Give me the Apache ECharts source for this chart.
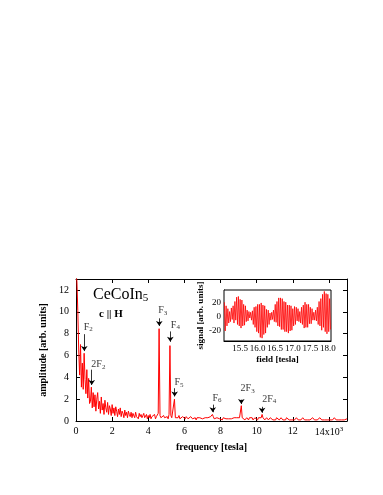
<!DOCTYPE html>
<html>
<head>
<meta charset="utf-8">
<script src="https://cdn.jsdelivr.net/npm/echarts@6/dist/echarts.min.js"></script>
<style>
  html, body { margin: 0; padding: 0; background: #fff; }
  #chart { width: 383px; height: 495px; }
</style>
</head>
<body>
<div id="chart"></div>
<script>
// FFT amplitude, sampled every 0.05 (x10^3 tesla) from 0 to 15
const freqStep = 0.05
const amplitude = [
  13.5, 12.8, 10.1, 6.5, 4.2, 7.0, 3.1, 5.3, 2.9, 6.2, 3.8, 2.5, 4.7, 2.1, 3.9, 1.6, 1.8, 3.1, 1.2, 2.6,
  1.3, 2.4, 0.9, 2.0, 2.6, 1.1, 1.8, 0.7, 2.2, 1.0, 1.6, 0.6, 1.9, 1.2, 0.8, 1.7, 0.6, 1.4, 1.1, 0.5,
  1.5, 0.7, 1.2, 0.5, 1.3, 0.9, 0.4, 1.1, 0.6, 1.2, 0.4, 0.9, 0.7, 0.3, 1.0, 0.5, 0.8, 0.3, 0.9, 0.6,
  0.4, 0.8, 0.3, 0.7, 0.6, 0.3, 0.8, 0.4, 0.5, 0.2, 0.7, 0.4, 0.6, 0.3, 0.5, 0.7, 0.3, 0.4, 0.6, 0.2,
  0.5, 0.3, 0.6, 0.2, 0.4, 0.5, 0.3, 0.6, 0.2, 0.4, 0.3, 0.7, 8.45, 0.5, 0.3, 0.4, 0.2, 0.5, 0.3, 0.4,
  0.3, 0.4, 0.2, 0.6, 6.9, 0.5, 0.3, 0.4, 0.3, 2.0, 0.3, 0.4, 0.2, 0.3, 0.5, 0.2, 0.3, 0.2, 0.4, 0.3,
  0.3, 0.2, 0.4, 0.3, 0.2, 0.3, 0.1, 0.4, 0.3, 0.2, 0.3, 0.2, 0.3, 0.1, 0.3, 0.4, 0.2, 0.3, 0.2, 0.3,
  0.2, 0.3, 0.1, 0.3, 0.2, 0.2, 0.3, 0.2, 0.3, 0.4, 0.3, 0.6, 0.4, 0.2, 0.3, 0.1, 0.3, 0.2, 0.3, 0.2,
  0.3, 0.2, 0.1, 0.3, 0.2, 0.3, 0.2, 0.1, 0.3, 0.2, 0.3, 0.2, 0.2, 0.3, 0.1, 0.3, 0.2, 0.2, 0.3, 0.2,
  0.2, 0.3, 0.3, 1.4, 0.3, 0.2, 0.3, 0.1, 0.2, 0.3, 0.2, 0.1, 0.3, 0.2, 0.2, 0.3, 0.1, 0.2, 0.3, 0.2,
  0.2, 0.1, 0.3, 0.2, 0.2, 0.3, 0.6, 0.3, 0.2, 0.1, 0.2, 0.3, 0.2, 0.1, 0.2, 0.3, 0.2, 0.2, 0.1, 0.2,
  0.2, 0.1, 0.3, 0.2, 0.2, 0.1, 0.2, 0.3, 0.2, 0.1, 0.2, 0.2, 0.1, 0.3, 0.2, 0.2, 0.1, 0.2, 0.2, 0.1,
  0.2, 0.2, 0.1, 0.2, 0.3, 0.2, 0.1, 0.2, 0.2, 0.1, 0.2, 0.3, 0.2, 0.1, 0.2, 0.2, 0.1, 0.2, 0.2, 0.1,
  0.2, 0.1, 0.3, 0.2, 0.1, 0.2, 0.2, 0.1, 0.2, 0.2, 0.3, 0.2, 0.1, 0.2, 0.2, 0.1, 0.2, 0.2, 0.1, 0.2,
  0.2, 0.1, 0.2, 0.2, 0.1, 0.2, 0.3, 0.2, 0.1, 0.2, 0.2, 0.1, 0.2, 0.2, 0.1, 0.2, 0.2, 0.1, 0.2, 0.2,
  0.2,
]

// peak labels + arrows (data coords)
const peakLabels = ['F2', '2F2', 'F3', 'F4', 'F5', 'F6', '2F3', '2F4']
const labelX = [0.68, 1.24, 4.8, 5.5, 5.7, 7.8, 9.5, 10.7]
const labelY = [8.6, 5.2, 10.1, 8.8, 3.5, 2.1, 3.0, 2.0]
const arrowX = [0.46, 0.87, 4.61, 5.22, 5.46, 7.57, 9.15, 10.3]
const arrowTop = [7.95, 4.7, 9.4, 8.2, 3.0, 1.5, 1.95, 1.3]
const arrowTip = [6.4, 3.3, 8.7, 7.25, 2.25, 0.8, 1.55, 0.75]

// inset: raw signal vs field
const fieldStart = 15.05
const fieldStep = 0.025
const signal = [
  20, -20, 15, -13, 11, -9, 7, -7, 12, -4, 15, -9, 21, -5, 27, -11, 28, -13, 24, -16,
  23, -13, 17, -12, 15, -7, 9, -6, 7, -2, 6, -5, 8, -11, 13, -15, 14, -21, 17, -23,
  17, -29, 19, -30, 16, -25, 15, -23, 10, -15, 9, -11, 5, -5, 6, -4, 9, -7, 17, -8,
  21, -13, 26, -14, 26, -18, 25, -18, 21, -21, 20, -21, 16, -23, 16, -20, 15, -19, 11, -13,
  14, -11, 13, -6, 11, -7, 7, -9, 13, -11, 16, -16, 20, -15, 17, -15, 17, -10, 13, -10,
  11, -5, 6, -5, 9, -6, 13, -11, 21, -13, 25, -19, 31, -15, 35, -21, 32, -24, 31, -21,
  25, -18,
]
const insetXTicks = [15.5, 16.0, 16.5, 17.0, 17.5, 18.0]
const insetYTicks = [-20, 0, 20]

const serif = 'Liberation Serif'
const black = '#000'

const chart = echarts.init(document.getElementById('chart'))

const mainAxis = {
  type: 'value',
  gridIndex: 0,
  splitLine: { show: false },
  axisLine: { show: true, onZero: false, lineStyle: { color: black, width: 1 } },
  axisTick: { show: true, inside: true, length: 4, lineStyle: { color: black } },
}

const option = {
  animation: false,
  backgroundColor: '#fff',
  grid: [
    { left: 76, top: 279, width: 271, height: 142 },
    { left: 224, top: 290, width: 107, height: 51, show: true, backgroundColor: '#fff', borderColor: black, borderWidth: 1, z: 5 },
  ],
  graphic: [
    {
      type: 'text', left: 93, top: 287, z: 10,
      style: {
        text: '{b|CeCoIn}{s|5}',
        rich: {
          b: { fontFamily: serif, fontSize: 16, fill: black },
          s: { fontFamily: serif, fontSize: 11, fill: black, padding: [7, 0, 0, 0] },
        },
      },
    },
    {
      type: 'text', left: 99, top: 309, z: 10,
      style: { text: 'c || H', font: 'bold 11px "Liberation Serif"', fill: black },
    },
  ],
  xAxis: [
    {
      ...mainAxis,
      min: 0, max: 15, interval: 2,
      name: 'frequency [tesla]',
      nameLocation: 'middle',
      nameGap: 21,
      nameTextStyle: { fontFamily: serif, fontWeight: 'bold', fontSize: 10, color: black },
      axisLabel: {
        color: black, fontFamily: serif, fontSize: 10, margin: 5,
        formatter: v => (v % 2 !== 0 ? '' : v === 14 ? '{n|14x10}{p|3}' : '{n|' + v + '}'),
        rich: {
          n: { fontFamily: serif, fontSize: 10, color: black },
          p: { fontFamily: serif, fontSize: 7, color: black, padding: [0, 0, 6, 0] },
        },
      },
    },
    { ...mainAxis, position: 'top', min: 0, max: 15, interval: 2, axisLabel: { show: false } },
    {
      type: 'value', gridIndex: 1, min: 15.04, max: 18.09,
      splitLine: { show: false },
      axisLine: { show: true, onZero: false, lineStyle: { color: black } },
      axisTick: { show: true, inside: true, length: 3, customValues: insetXTicks, lineStyle: { color: black } },
      axisLabel: { color: black, fontFamily: serif, fontSize: 9, margin: 3, customValues: insetXTicks, formatter: v => v.toFixed(1) },
      name: 'field [tesla]',
      nameLocation: 'middle',
      nameGap: 14,
      nameTextStyle: { fontFamily: serif, fontWeight: 'bold', fontSize: 9, color: black },
    },
  ],
  yAxis: [
    {
      ...mainAxis,
      min: 0, max: 13, interval: 2,
      name: 'amplitude [arb. units]',
      nameLocation: 'middle',
      nameRotate: 90,
      nameGap: 12,
      nameTextStyle: { fontFamily: serif, fontWeight: 'bold', fontSize: 10, color: black },
      axisLabel: { color: black, fontFamily: serif, fontSize: 10, margin: 7, formatter: v => (v % 2 !== 0 ? '' : v) },
    },
    { ...mainAxis, position: 'right', min: 0, max: 13, interval: 2, axisLabel: { show: false } },
    {
      type: 'value', gridIndex: 1, min: -34, max: 37,
      splitLine: { show: false },
      axisLine: { show: true, onZero: false, lineStyle: { color: black } },
      axisTick: { show: true, inside: true, length: 3, customValues: insetYTicks, lineStyle: { color: black } },
      axisLabel: { color: black, fontFamily: serif, fontSize: 9, margin: 3, customValues: insetYTicks },
      name: 'signal [arb. units]',
      nameLocation: 'middle',
      nameRotate: 90,
      nameGap: 13,
      nameTextStyle: { fontFamily: serif, fontWeight: 'bold', fontSize: 9, color: black },
    },
  ],
  series: [
    {
      name: 'amplitude',
      type: 'line',
      xAxisIndex: 0,
      yAxisIndex: 0,
      showSymbol: false,
      clip: true,
      lineStyle: { color: '#ff0000', width: 1 },
      data: amplitude.map((a, i) => [i * freqStep, a]),
    },
    {
      name: 'peaks',
      type: 'scatter',
      xAxisIndex: 0,
      yAxisIndex: 0,
      symbolSize: 0,
      silent: true,
      label: {
        show: true,
        position: 'inside',
        formatter: p => '{b|' + p.name.replace(/(\d)$/, '}{s|$1}'),
        rich: {
          b: { fontFamily: serif, fontSize: 10, color: black },
          s: { fontFamily: serif, fontSize: 7, color: black, padding: [5, 0, 0, 0] },
        },
      },
      data: peakLabels.map((n, i) => ({ name: n, value: [labelX[i], labelY[i]] })),
      markLine: {
        silent: true,
        symbol: ['none', 'arrow'],
        symbolSize: 5,
        label: { show: false },
        lineStyle: { color: black, width: 0.8, type: 'solid' },
        data: arrowX.map((x, i) => [{ coord: [x, arrowTop[i]] }, { coord: [x, arrowTip[i]] }]),
      },
    },
    {
      name: 'signal',
      type: 'line',
      xAxisIndex: 2,
      yAxisIndex: 2,
      showSymbol: false,
      z: 6,
      lineStyle: { color: '#ff0000', width: 0.8 },
      data: signal.map((s, i) => [fieldStart + i * fieldStep, s]),
    },
  ],
}

chart.setOption(option)
</script>
</body>
</html>
